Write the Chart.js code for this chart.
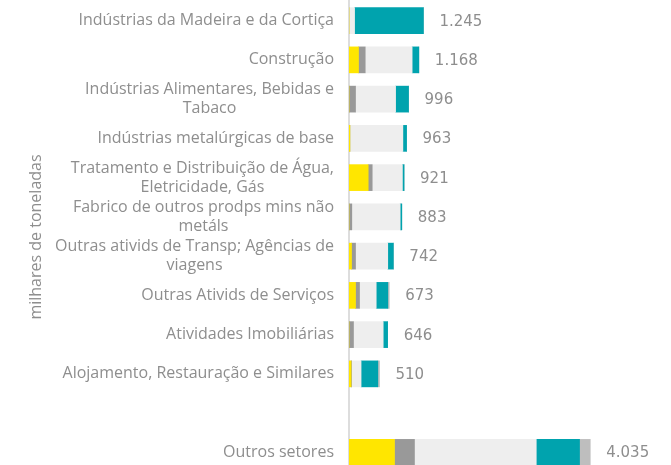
<!DOCTYPE html>
<html lang="pt">
<head>
  <meta charset="UTF-8">
  <title>Setores</title>
  <script src="https://cdn.jsdelivr.net/npm/chart.js"></script>
  <style>
    body { margin: 0; overflow: hidden; background: #fff; }
    .wrap { position: relative; width: 671px; height: 472px; }
  </style>
</head>
<body>
  <div class="wrap"><canvas id="chart"></canvas></div>

  <script>
    // categorias (linhas de cada rótulo)
    const categories = [
      ['Indústrias da Madeira e da Cortiça'],
      ['Construção'],
      ['Indústrias Alimentares, Bebidas e', 'Tabaco'],
      ['Indústrias metalúrgicas de base'],
      ['Tratamento e Distribuição de Água,', 'Eletricidade, Gás'],
      ['Fabrico de outros prodps mins não', 'metáls'],
      ['Outras ativids de Transp; Agências de', 'viagens'],
      ['Outras Ativids de Serviços'],
      ['Atividades Imobiliárias'],
      ['Alojamento, Restauração e Similares'],
      [''],
      ['Outros setores']
    ];

    // segmentos (milhares de toneladas)
    const serieAmarela  = [0,    159, 0,   15,  321, 0,   42,  109, 0,   35,  null, 761];
    const serieCinza    = [0,    112, 109, 0,   67,  47,  67,  67,  75,  8,   null, 334];
    const serieClara    = [93,   785, 670, 886, 505, 809, 539, 279, 497, 159, null, 2037];
    const serieTeal     = [1152, 112, 217, 62,  28,  27,  94,  194, 74,  280, null, 724];
    const serieCinza2   = [0,    0,   0,   0,   0,   0,   0,   24,  0,   28,  null, 179];

    const totals = [1245, 1168, 996, 963, 921, 883, 742, 673, 646, 510, null, 4035];

    const labelFont = '16px "Open Sans", sans-serif';
    const labelColor = '#8e8e8e';

    const drawText = {
      id: 'drawText',
      afterDraw(chart) {
        const ctx = chart.ctx;
        const y = chart.scales.y;
        const x = chart.scales.x;
        ctx.save();
        // rótulos das categorias
        ctx.font = labelFont;
        ctx.fillStyle = labelColor;
        ctx.textAlign = 'center';
        ctx.textBaseline = 'middle';
        categories.forEach((lines, i) => {
          const cy = y.getPixelForValue(i);
          const w = Math.max(...lines.map(l => ctx.measureText(l).width));
          const cx = 334 - w / 2;
          lines.forEach((l, j) => {
            ctx.fillText(l, cx, cy + (j - (lines.length - 1) / 2) * 19);
          });
        });
        // totais
        ctx.font = '15px "DejaVu Sans", sans-serif';
        ctx.textAlign = 'left';
        totals.forEach((t, i) => {
          if (t == null) return;
          ctx.fillText(t.toLocaleString('de-DE'), x.getPixelForValue(t) + 16, y.getPixelForValue(i) + 1);
        });
        // título do eixo
        ctx.font = labelFont;
        ctx.textAlign = 'center';
        ctx.translate(36, 237);
        ctx.rotate(-Math.PI / 2);
        ctx.fillText('milhares de toneladas', 0, 0);
        ctx.restore();
      }
    };

    const ds = (data, color) => ({ data, backgroundColor: color, barThickness: 26, borderWidth: 0 });

    new Chart(document.getElementById('chart'), {
      type: 'bar',
      data: {
        labels: categories.map(c => c.join(' ')),
        datasets: [
          ds(serieAmarela, '#FFE600'),
          ds(serieCinza, '#999999'),
          ds(serieClara, '#EEEEEE'),
          ds(serieTeal, '#00A3AE'),
          ds(serieCinza2, '#BEBEBE')
        ]
      },
      options: {
        indexAxis: 'y',
        responsive: true,
        maintainAspectRatio: false,
        animation: false,
        layout: { padding: { top: 1, right: 35, bottom: 0, left: 0 } },
        plugins: { legend: { display: false }, tooltip: { enabled: false } },
        scales: {
          x: { stacked: true, display: false, min: 0, max: 4800 },
          y: {
            stacked: true,
            ticks: { display: false },
            grid: { display: false },
            border: { display: true, color: '#dddddd', width: 2 },
            afterFit(scale) { scale.width = 349; }
          }
        }
      },
      plugins: [drawText]
    });
  </script>
</body>
</html>
